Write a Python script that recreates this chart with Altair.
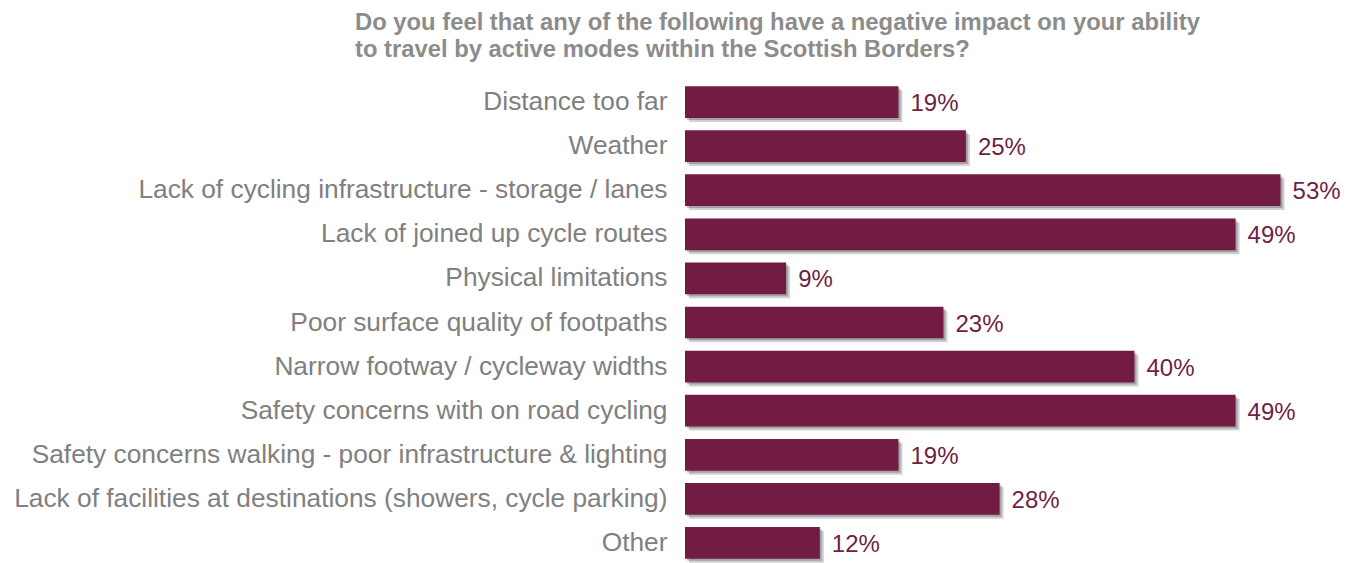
import altair as alt
import pandas as pd

categories = [
    "Distance too far",
    "Weather",
    "Lack of cycling infrastructure - storage / lanes",
    "Lack of joined up cycle routes",
    "Physical limitations",
    "Poor surface quality of footpaths",
    "Narrow footway / cycleway widths",
    "Safety concerns with on road cycling",
    "Safety concerns walking - poor infrastructure & lighting",
    "Lack of facilities at destinations (showers, cycle parking)",
    "Other",
]
values = [19, 25, 53, 49, 9, 23, 40, 49, 19, 28, 12]
labels = [f"{v}%" for v in values]

title_lines = [
    "Do you feel that any of the following have a negative impact on your ability",
    "to travel by active modes within the Scottish Borders?",
]

df = pd.DataFrame({"category": categories, "value": values, "label": labels})

FONT = "Arial, Liberation Sans, sans-serif"
BAR = "#721B43"

x = alt.X("value:Q", scale=alt.Scale(domain=[0, 55], nice=False), axis=None)
y = alt.Y(
    "category:N",
    sort=categories,
    scale=alt.Scale(paddingInner=0.28, paddingOuter=0.14),
    axis=alt.Axis(
        title=None,
        domain=False,
        ticks=False,
        labelFontSize=26.3,
        labelColor="#808080",
        labelFont=FONT,
        labelPadding=18,
        labelLimit=900,
    ),
)

base = alt.Chart(df)

shadow1 = base.mark_bar(color="#000000", opacity=0.18, xOffset=4, yOffset=4).encode(x=x, y=y)
shadow2 = base.mark_bar(color="#000000", opacity=0.22, xOffset=2, yOffset=2).encode(x=x, y=y)
bars = base.mark_bar(color=BAR).encode(x=x, y=y)
text = base.mark_text(
    align="left", baseline="middle", dx=12, dy=2, fontSize=24, font=FONT, color="#6E1F45"
).encode(x=x, y=y, text="label:N")

chart = (
    alt.layer(shadow1, shadow2, bars, text)
    .properties(
        width=618,
        height=485,
        padding={"left": 677, "top": 72, "right": 40, "bottom": 0},
        autosize=alt.AutoSizeParams(type="none"),
        title=alt.Title(
            text=title_lines,
            anchor="start",
            frame="group",
            dx=-330,
            fontSize=23.8,
            fontWeight="bold",
            font=FONT,
            color="#8C8C8C",
            lineHeight=27,
            offset=18,
        ),
    )
    .configure_view(stroke=None)
)

chart.save("out.html", embed_options={"renderer": "svg", "actions": False})
